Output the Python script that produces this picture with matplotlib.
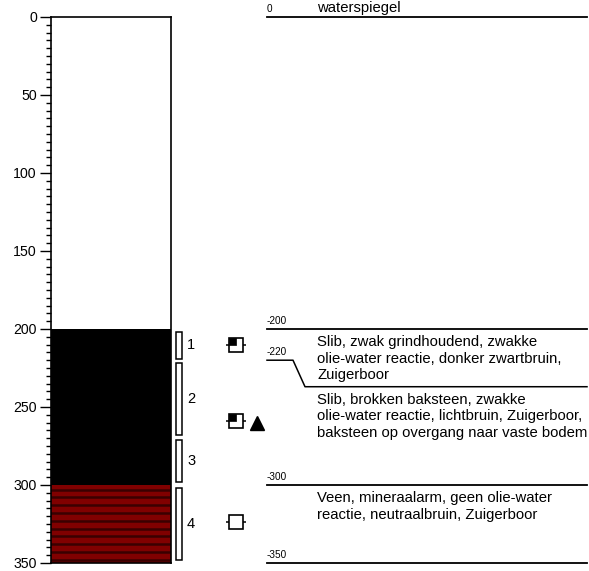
import numpy as np
import matplotlib
matplotlib.use("Agg")
import matplotlib.pyplot as plt
from matplotlib.patches import Rectangle
from matplotlib.path import Path

plt.rcParams['font.family'] = ['Liberation Sans', 'DejaVu Sans']

# ---------------- data ----------------
layer_top = [200, 300]
layer_bottom = [300, 350]
layer_color = ['#000000', '#800000']
layer_striped = [False, True]

sample_ids = ['1', '2', '3', '4']
sample_top = [202, 222, 271, 302]
sample_bottom = [219, 268, 298, 348]

symbol_depth = [210, 259, 324]
symbol_half_filled = [True, True, False]
triangle_depth = [260]

boundary_depth = [0, 200, 220, 300, 350]
boundary_label = ['0', '-200', '-220', '-300', '-350']
boundary_text_depth = [0, 200, 237, 300, 350]

water_label = 'waterspiegel'
desc_top = [200, 237, 300]
descriptions = [
    "Slib, zwak grindhoudend, zwakke\nolie-water reactie, donker zwartbruin,\nZuigerboor",
    "Slib, brokken baksteen, zwakke\nolie-water reactie, lichtbruin, Zuigerboor,\nbaksteen op overgang naar vaste bodem",
    "Veen, mineraalarm, geen olie-water\nreactie, neutraalbruin, Zuigerboor",
]
max_depth = 350

# ---------------- layout ----------------
W, H = 589, 571
fig = plt.figure(figsize=(W / 100, H / 100), dpi=100)
y_top_px, y_bot_px = 17, 563
bottom = (H - y_bot_px) / H
height = (y_bot_px - y_top_px) / H

ax = fig.add_axes([51 / W, bottom, 120 / W, height])
ax.set_ylim(max_depth, 0)
ax.set_xlim(0, 1)
for t, b, c, s in zip(layer_top, layer_bottom, layer_color, layer_striped):
    ax.fill_between([0, 1], t, b, color=c, lw=0)
    if s:
        for yy in np.arange(t + 3, b + 0.1, 5):
            ax.axhline(yy, color='#3a0000', lw=1.8)
ax.set_xticks([])
ax.set_yticks(np.arange(0, max_depth + 1, 50))
ax.set_yticks(np.arange(0, max_depth + 1, 5), minor=True)
ax.tick_params(axis='y', which='major', length=8, width=1, pad=2.2,
               labelsize=10.2, direction='out')
ax.tick_params(axis='y', which='minor', length=3.8, width=1, direction='out')
for sp in ax.spines.values():
    sp.set_linewidth(1.2)

ax2 = fig.add_axes([0, bottom, 1, height], zorder=5)
ax2.set_xlim(0, W)
ax2.set_ylim(max_depth, 0)
ax2.axis('off')
ax2.patch.set_alpha(0)

# sample brackets
for sid, t, b in zip(sample_ids, sample_top, sample_bottom):
    ax2.add_patch(Rectangle((175.5, t), 6.5, b - t, facecolor='white',
                            edgecolor='black', lw=1.1, clip_on=False))
    ax2.text(187, (t + b) / 2, sid, fontsize=10.5, va='center', ha='left')

# symbols
quad = Path([(-1, 0), (0, 0), (0, 1), (-1, 1), (-1, 0)],
            [Path.MOVETO, Path.LINETO, Path.LINETO, Path.LINETO, Path.CLOSEPOLY])
sq_size = 10.3
for d, hf in zip(symbol_depth, symbol_half_filled):
    ax2.plot([236], [d], marker='_', ms=14.4, mew=1.1, color='black', clip_on=False)
    ax2.plot([236], [d], marker='s', ms=sq_size, mfc='white', mec='black',
             mew=1.2, ls='none', clip_on=False)
    if hf:
        ax2.plot([236], [d], marker=quad, ms=sq_size, mfc='black', mec='black',
                 mew=0.5, ls='none', clip_on=False)
for d in triangle_depth:
    ax2.plot([257], [d], marker='^', ms=9.4, color='black', ls='none', clip_on=False)

# right panel boundaries
x0, x1, xk, xs = 267, 587, 293, 305
for d, lab, td in zip(boundary_depth, boundary_label, boundary_text_depth):
    if td == d:
        ax2.plot([x0, x1], [d, d], color='black', lw=1.3, clip_on=False)
    else:
        ax2.plot([x0, xk, xs, x1], [d, d, td, td], color='black', lw=1.1, clip_on=False)
    ax2.annotate(lab, (x0, d), xytext=(0, 2.2), textcoords='offset points',
                 fontsize=7.2, ha='left', va='bottom')

ax2.annotate(water_label, (317, boundary_depth[0]), xytext=(0, 1.5),
             textcoords='offset points', fontsize=10.7, ha='left', va='bottom')

for t, txt in zip(desc_top, descriptions):
    ax2.annotate(txt, (317, t), xytext=(0, -4.5), textcoords='offset points',
                 fontsize=10.7, ha='left', va='top', linespacing=1.22)

fig.savefig('out.png', dpi=100)
